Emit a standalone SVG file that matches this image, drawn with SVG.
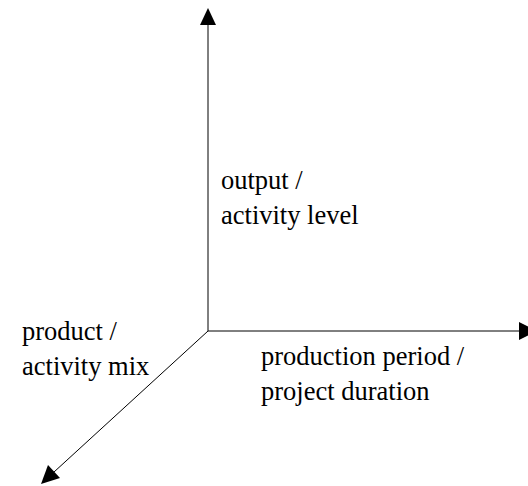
<svg xmlns="http://www.w3.org/2000/svg" width="528" height="486" viewBox="0 0 528 486">
  <style>
    .axis { stroke: #000; stroke-width: 1; fill: none; }
    .head { fill: #000; stroke: none; }
    .label { font-family: "Liberation Serif", "Times New Roman", serif; font-size: 26.5px; fill: #000; }
  </style>
  <rect width="528" height="486" fill="#fff"/>
  <g id="connectors">
    <!-- vertical axis: output / activity level -->
    <line class="axis" x1="208" y1="331" x2="208" y2="24"/>
    <polygon class="head" points="208,8 200,25 216,25"/>
    <!-- horizontal axis: production period / project duration -->
    <line class="axis" x1="208" y1="331" x2="520" y2="331"/>
    <polygon class="head" points="537,331 519,322 519,340"/>
    <!-- diagonal axis: product / activity mix -->
    <line class="axis" x1="208" y1="331" x2="54" y2="472"/>
    <polygon class="head" points="41,484 48,465 60,478"/>
  </g>
  <g id="label-output">
    <text class="label" x="221" y="189">output /</text>
    <text class="label" x="221" y="224">activity level</text>
  </g>
  <g id="label-product">
    <text class="label" x="22" y="340">product /</text>
    <text class="label" x="22" y="375">activity mix</text>
  </g>
  <g id="label-production">
    <text class="label" x="261" y="365">production period /</text>
    <text class="label" x="261" y="400">project duration</text>
  </g>
</svg>
